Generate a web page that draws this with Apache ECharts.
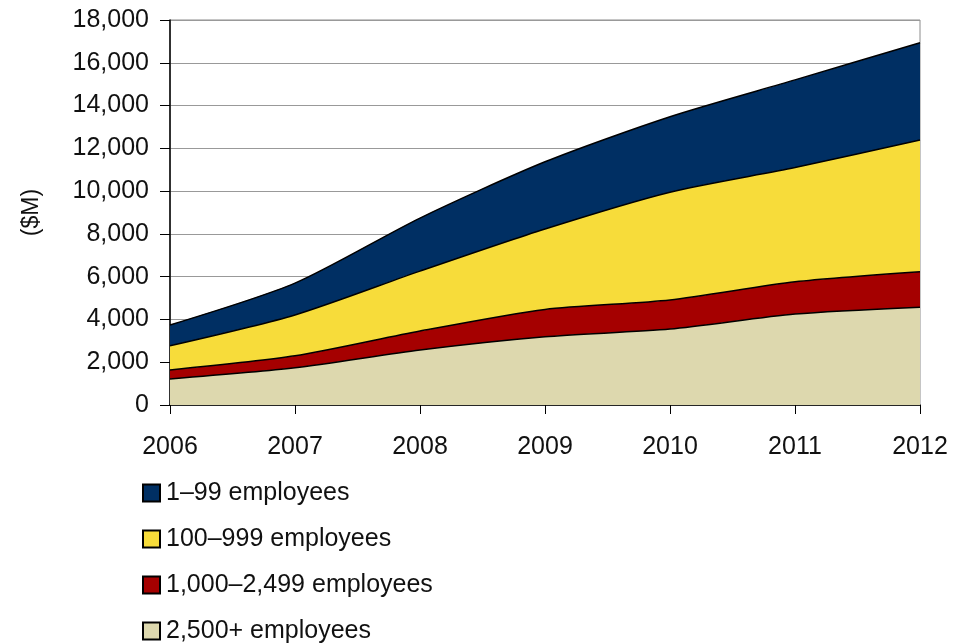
<!DOCTYPE html>
<html>
<head>
<meta charset="utf-8">
<script src="https://cdn.jsdelivr.net/npm/echarts@6/dist/echarts.min.js"></script>
<style>html,body{margin:0;padding:0;background:#fff;}#c{width:966px;height:644px;}</style>
</head>
<body>
<div id="c"></div>
<script>
const years = ['2006','2007','2008','2009','2010','2011','2012'];
const emp2500 = [1220, 1740, 2570, 3190, 3550, 4250, 4570];
const emp1000 = [420, 560, 890, 1280, 1360, 1510, 1660];
const emp100 = [1130, 1910, 2800, 3760, 5040, 5340, 6160];
const emp1 = [970, 1490, 2480, 3140, 3530, 4100, 4550];
const legendNames = ['1\u201399 employees','100\u2013999 employees','1,000\u20132,499 employees','2,500+ employees'];
const font = 'Liberation Sans, Arial, sans-serif';

function mk(name, data, color){
  return {
    name, type:'line', stack:'total', data, smooth:0.25, symbol:'none',
    lineStyle:{color:'#000', width:1.5},
    itemStyle:{color, borderColor:'#000', borderWidth:2},
    areaStyle:{color, opacity:1}
  };
}
const chart = echarts.init(document.getElementById('c'));
chart.setOption({
  animation:false,
  grid:{left:170, right:46, top:20, bottom:239, show:true, borderColor:'#8c8c8c', borderWidth:1},
  legend:{
    orient:'vertical', left:137, top:475, height:175, itemWidth:17, itemHeight:17, itemGap:20,
    data:legendNames, icon:'rect',
    itemStyle:{borderColor:'#000', borderWidth:2},
    textStyle:{fontFamily:font, fontSize:25, color:'#111', lineHeight:26, padding:[0,0,0,1]}
  },
  xAxis:{
    type:'category', data:years, boundaryGap:false,
    axisLine:{lineStyle:{color:'#000', width:1.5}},
    axisTick:{show:true, length:9, lineStyle:{color:'#000'}},
    axisLabel:{fontFamily:font, fontSize:25, color:'#111', margin:30}
  },
  yAxis:{
    type:'value', min:0, max:18000, interval:2000,
    name:'($M)', nameLocation:'middle', nameGap:127,
    nameTextStyle:{fontFamily:font, fontSize:23, color:'#111'},
    axisLine:{show:true, lineStyle:{color:'#000', width:1.5}},
    axisTick:{show:true, length:10, lineStyle:{color:'#000'}},
    axisLabel:{fontFamily:font, fontSize:25, color:'#111', margin:21,
      formatter:v=>v.toLocaleString('en-US')},
    splitLine:{show:true, lineStyle:{color:'#999', width:1}}
  },
  series:[
    mk(legendNames[3], emp2500, '#ddd8ae'),
    mk(legendNames[2], emp1000, '#a50000'),
    mk(legendNames[1], emp100, '#f7dc3a'),
    mk(legendNames[0], emp1, '#002f63')
  ]
});
</script>
</body>
</html>
